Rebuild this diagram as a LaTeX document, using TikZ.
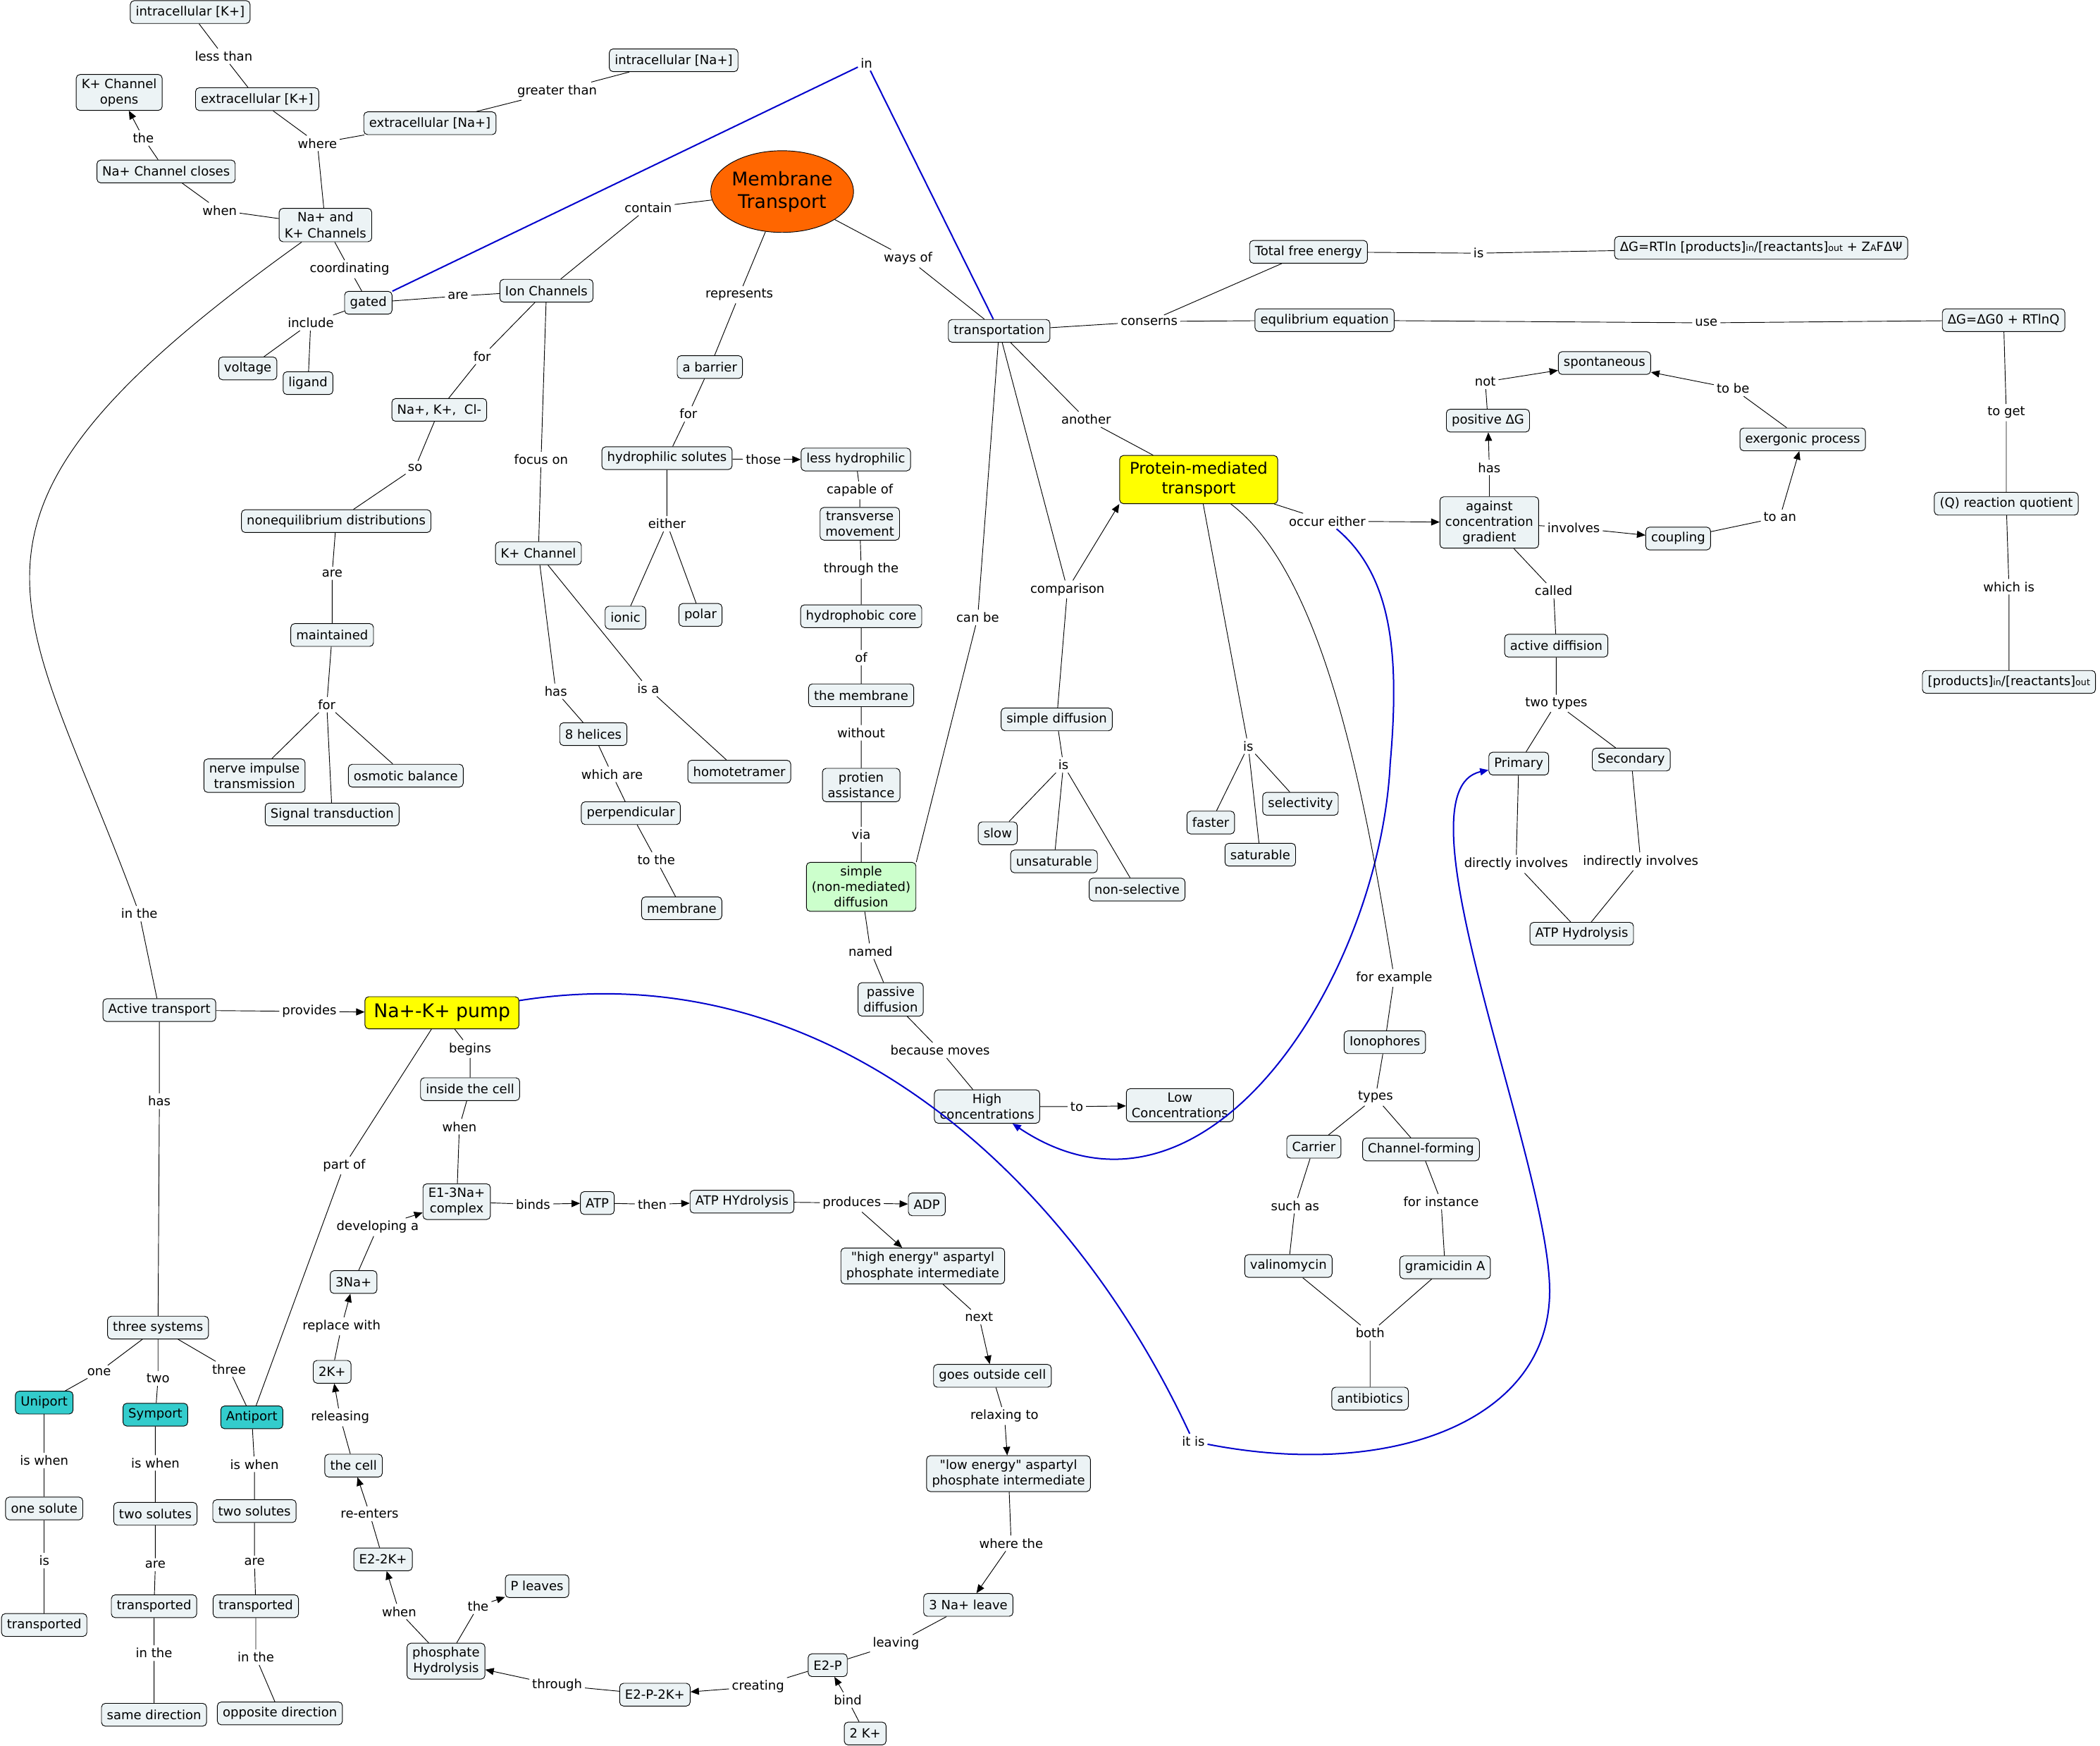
\documentclass[tikz,border=0pt]{standalone}
\usepackage{fontspec}
\setmainfont{DejaVu Sans}
\usepackage{tikz}
\usetikzlibrary{arrows.meta, positioning, shapes.geometric}
\definecolor{cConcept}{RGB}{236,243,245}
\definecolor{cOrange}{RGB}{255,102,0}
\definecolor{cYellow}{RGB}{255,255,0}
\definecolor{cMint}{RGB}{204,255,204}
\definecolor{cTeal}{RGB}{51,204,204}
\definecolor{cBlue}{RGB}{0,0,204}
\newcommand{\sm}[1]{{\fontsize{9.5}{9.5}\selectfont #1}}
\newcommand{\dq}{\XeTeXglyph\XeTeXcharglyph"22\relax}
\tikzset{
	concept/.style   ={rectangle, rounded corners=4pt, draw=black, line width=0.7pt, fill=cConcept, align=center, inner xsep=0.2cm, inner ysep=0.15cm, minimum height=0.85cm},
	phrase/.style    ={inner sep=0.1cm, align=center},
	link/.style      ={line width=0.7pt},
	linkto/.style    ={line width=0.7pt, -{Triangle[length=9pt, width=7.5pt]}},
	bluelink/.style  ={cBlue, line width=1.5pt},
	bluelinkto/.style={cBlue, line width=1.5pt, -{Triangle[length=9pt, width=7.5pt]}},
}

\begin{document}
\begin{tikzpicture}[x=0.05cm, y=-0.05cm, font=\fontsize{13.5}{16.5}\selectfont]
\useasboundingbox (0,0) rectangle (1568,1303);
% ion channels (top left)
\node[concept] (ikin) at (142,9) {intracellular [K+]};
\node[concept] (kopen) at (89,69) {K+ Channel\\opens};
\node[concept] (ekex) at (192,74) {extracellular [K+]};
\node[concept] (nain) at (503,45) {intracellular [Na+]};
\node[concept] (naex) at (321,92) {extracellular [Na+]};
\node[concept] (naclose) at (124,128) {Na+ Channel closes};
\node[concept] (nakch) at (243,168) {Na+ and\\K+ Channels};
\node[concept] (gated) at (275,226) {gated};
\node[concept] (voltage) at (185,275) {voltage};
\node[concept] (ligand) at (230,286) {ligand};
\node[concept] (ionch) at (408,217) {Ion Channels};
\node[concept] (ions) at (328,306) {Na+, K+,~ Cl-};
\node[concept] (noneq) at (251,389) {nonequilibrium distributions};
\node[concept] (maintained) at (248,474) {maintained};
\node[concept] (nerve) at (190,579) {nerve impulse\\transmission};
\node[concept] (osmotic) at (303,579) {osmotic balance};
\node[concept] (signal) at (248,608) {Signal transduction};
\node[concept] (kch) at (402,413) {K+ Channel};
\node[concept] (helices) at (443,548) {8 helices};
\node[concept] (homo) at (552,576) {homotetramer};
\node[concept] (perp) at (471,607) {perpendicular};
\node[concept] (memb) at (509,678) {membrane};
% centre
\node[ellipse, draw=black, line width=0.7pt, fill=cOrange, minimum width=5.05cm, minimum height=3.05cm, inner sep=0pt, align=center, font=\fontsize{20}{24}\selectfont] (mt) at (584,143) {Membrane\\Transport};
\node[concept] (barrier) at (530,274) {a barrier};
\node[concept] (hydro) at (498,342) {hydrophilic solutes};
\node[concept] (ionic) at (467,461) {ionic};
\node[concept] (polar) at (523,459) {polar};
\node[concept] (lesshyd) at (639,343) {less hydrophilic};
\node[concept] (transv) at (642,391) {transverse\\movement};
\node[concept] (hcore) at (643,460) {hydrophobic core};
\node[concept] (themem) at (643,519) {the membrane};
\node[concept] (assist) at (643,586) {protien\\assistance};
\node[concept, fill=cMint] (simple) at (643,662) {simple\\(non-mediated)\\diffusion};
\node[concept] (passive) at (665,746) {passive\\diffusion};
\node[concept] (high) at (737,826) {High\\concentrations};
\node[concept] (low) at (881,825) {Low\\Concentrations};
% transportation (right)
\node[concept] (transp) at (746,247) {transportation};
\node[concept] (totalg) at (977,188) {Total free energy};
\node[concept] (dgfull) at (1315,185) {ΔG=RTln [products]\sm{in}/[reactants]\sm{out} + Z\sm{A}FΔΨ};
\node[concept] (equil) at (989,239) {equlibrium equation};
\node[concept] (dgzero) at (1496,239) {ΔG=ΔG0 + RTlnQ};
\node[concept] (quot) at (1498,376) {(Q) reaction quotient};
\node[concept] (ratio) at (1500,509) {[products]\sm{in}/[reactants]\sm{out}};
\node[concept, fill=cYellow, font=\fontsize{17}{20.5}\selectfont, minimum width=5.9cm, minimum height=1.8cm] (protein) at (895,358) {Protein-mediated\\transport};
\node[concept] (simpdiff) at (789,537) {simple diffusion};
\node[concept] (slow) at (745,622) {slow};
\node[concept] (unsat) at (787,643) {unsaturable};
\node[concept] (nonsel) at (849,664) {non-selective};
\node[concept] (faster) at (904,614) {faster};
\node[concept] (select) at (971,600) {selectivity};
\node[concept] (sat) at (941,638) {saturable};
\node[concept] (spont) at (1198,271) {spontaneous};
\node[concept] (posdg) at (1111,314) {positive ΔG};
\node[concept] (exerg) at (1346,328) {exergonic process};
\node[concept] (against) at (1112,390) {against\\concentration\\gradient};
\node[concept] (coupling) at (1253,402) {coupling};
\node[concept] (activd) at (1162,482) {active diffision};
\node[concept] (primary) at (1134,570) {Primary};
\node[concept] (second) at (1218,567) {Secondary};
\node[concept] (atphyd) at (1181,697) {ATP Hydrolysis};
\node[concept] (ionoph) at (1034,778) {Ionophores};
\node[concept] (carrier) at (981,856) {Carrier};
\node[concept] (chform) at (1061,858) {Channel-forming};
\node[concept] (valino) at (962,945) {valinomycin};
\node[concept] (gramA) at (1079,946) {gramicidin A};
\node[concept] (antib) at (1023,1044) {antibiotics};
% active transport (bottom)
\node[concept] (activet) at (119,754) {Active transport};
\node[concept, fill=cYellow, font=\fontsize{20}{24}\selectfont, minimum width=5.75cm, minimum height=1.2cm] (pump) at (330,756) {Na+-K+ pump};
\node[concept] (inside) at (351,813) {inside the cell};
\node[concept] (eone) at (341,897) {E1-3Na+\\complex};
\node[concept] (atp) at (446,898) {ATP};
\node[concept] (atphy) at (554,897) {ATP HYdrolysis};
\node[concept] (adp) at (692,899) {ADP};
\node[concept] (highen) at (689,945) {\dq high energy\dq{} aspartyl\\phosphate intermediate};
\node[concept] (goesout) at (741,1027) {goes outside cell};
\node[concept] (lowen) at (753,1100) {\dq low energy\dq{} aspartyl\\phosphate intermediate};
\node[concept] (naleave) at (723,1198) {3 Na+ leave};
\node[concept] (etwop) at (618,1243) {E2-P};
\node[concept] (twok) at (646,1294) {2 K+};
\node[concept] (etwopk) at (489,1265) {E2-P-2K+};
\node[concept] (phos) at (333,1240) {phosphate\\Hydrolysis};
\node[concept] (pleave) at (401,1184) {P leaves};
\node[concept] (etwok) at (286,1164) {E2-2K+};
\node[concept] (thecell) at (264,1094) {the cell};
\node[concept] (kplus) at (248,1024) {2K+};
\node[concept] (nathree) at (264,957) {3Na+};
\node[concept] (three) at (118,991) {three systems};
\node[concept, fill=cTeal] (uni) at (33,1047) {Uniport};
\node[concept, fill=cTeal] (sym) at (116,1056) {Symport};
\node[concept, fill=cTeal] (anti) at (188,1058) {Antiport};
\node[concept] (onesol) at (33,1126) {one solute};
\node[concept] (transa) at (33,1213) {transported};
\node[concept] (twosola) at (116,1130) {two solutes};
\node[concept] (transb) at (115,1199) {transported};
\node[concept] (samedir) at (115,1280) {same direction};
\node[concept] (twosolb) at (190,1128) {two solutes};
\node[concept] (transc) at (191,1199) {transported};
\node[concept] (oppdir) at (209,1279) {opposite direction};

% linking phrases
\node[phrase] (lLess) at (167,42) {less than};
\node[phrase] (lWhere) at (237,107) {where};
\node[phrase] (lGreater) at (416,68) {greater than};
\node[phrase] (lThe) at (107,103) {the};
\node[phrase] (lWhen) at (164,157) {when};
\node[phrase] (lCoord) at (261,201) {coordinating};
\node[phrase] (lAre) at (342,221) {are};
\node[phrase] (lInclude) at (232,241) {include};
\node[phrase] (lFor) at (360,266) {for};
\node[phrase] (lSo) at (310,349) {so};
\node[phrase] (lAreb) at (248,428) {are};
\node[phrase] (lForb) at (244,526) {for};
\node[phrase] (lFocus) at (404,343) {focus on};
\node[phrase] (lHas) at (415,516) {has};
\node[phrase] (lIsA) at (484,514) {is a};
\node[phrase] (lWhich) at (457,578) {which are};
\node[phrase] (lToThe) at (490,642) {to the};
\node[phrase] (lIn) at (647,47) {in};
\node[phrase] (lContain) at (484,155) {contain};
\node[phrase] (lRepr) at (552,220) {represents};
\node[phrase] (lWays) at (678,193) {ways of};
\node[phrase] (lForc) at (514,309) {for};
\node[phrase] (lThose) at (570,343) {those};
\node[phrase] (lEither) at (498,391) {either};
\node[phrase] (lCapable) at (642,366) {capable of};
\node[phrase] (lThrough) at (643,425) {through the};
\node[phrase] (lOf) at (643,491) {of};
\node[phrase] (lWithout) at (643,547) {without};
\node[phrase] (lVia) at (643,623) {via};
\node[phrase] (lNamed) at (650,710) {named};
\node[phrase] (lBecause) at (702,784) {because moves};
\node[phrase] (lTo) at (804,826) {to};
\node[phrase] (lCanBe) at (730,461) {can be};
\node[phrase] (lAnother) at (811,313) {another};
\node[phrase] (lComp) at (797,440) {comparison};
\node[phrase] (lIsa) at (794,571) {is};
\node[phrase] (lIsb) at (932,557) {is};
\node[phrase] (lConserns) at (858,240) {conserns};
\node[phrase] (lIsc) at (1104,189) {is};
\node[phrase] (lUse) at (1274,241) {use};
\node[phrase] (lToGet) at (1498,308) {to get};
\node[phrase] (lWhichIs) at (1500,438) {which is};
\node[phrase] (lOccur) at (991,389) {occur either};
\node[phrase] (lNot) at (1109,285) {not};
\node[phrase] (lHasb) at (1112,349) {has};
\node[phrase] (lToBe) at (1294,290) {to be};
\node[phrase] (lInvolves) at (1175,394) {involves};
\node[phrase] (lToAn) at (1329,386) {to an};
\node[phrase] (lCalled) at (1160,441) {called};
\node[phrase] (lTypes) at (1162,525) {two types};
\node[phrase] (lDirect) at (1132,645) {directly involves};
\node[phrase] (lIndirect) at (1225,643) {indirectly involves};
\node[phrase] (lForEx) at (1041,730) {for example};
\node[phrase] (lTypesb) at (1027,819) {types};
\node[phrase] (lSuch) at (967,900) {such as};
\node[phrase] (lForInst) at (1076,897) {for instance};
\node[phrase] (lBoth) at (1023,995) {both};
\node[phrase] (lInThe) at (104,682) {in the};
\node[phrase] (lHasc) at (119,822) {has};
\node[phrase] (lProv) at (231,755) {provides};
\node[phrase] (lPartOf) at (257,870) {part of};
\node[phrase] (lBegins) at (351,783) {begins};
\node[phrase] (lWhenb) at (343,841) {when};
\node[phrase] (lBinds) at (398,899) {binds};
\node[phrase] (lThen) at (487,899) {then};
\node[phrase] (lProd) at (636,898) {produces};
\node[phrase] (lNext) at (731,983) {next};
\node[phrase] (lRelax) at (750,1057) {relaxing to};
\node[phrase] (lWhereThe) at (755,1152) {where the};
\node[phrase] (lLeaving) at (669,1227) {leaving};
\node[phrase] (lBind) at (633,1269) {bind};
\node[phrase] (lCreating) at (566,1259) {creating};
\node[phrase] (lThroughb) at (416,1258) {through};
\node[phrase] (lWhenc) at (298,1203) {when};
\node[phrase] (lTheb) at (357,1199) {the};
\node[phrase] (lReenters) at (276,1130) {re-enters};
\node[phrase] (lReleasing) at (254,1058) {releasing};
\node[phrase] (lReplace) at (255,990) {replace with};
\node[phrase] (lDevelop) at (282,916) {developing a};
\node[phrase] (lOne) at (74,1024) {one};
\node[phrase] (lTwo) at (118,1029) {two};
\node[phrase] (lThree) at (171,1022) {three};
\node[phrase] (lIsWhen) at (33,1090) {is when};
\node[phrase] (lIsd) at (33,1165) {is};
\node[phrase] (lIsWhenb) at (116,1092) {is when};
\node[phrase] (lArec) at (116,1168) {are};
\node[phrase] (lInTheb) at (115,1234) {in the};
\node[phrase] (lIsWhenc) at (190,1093) {is when};
\node[phrase] (lAred) at (190,1166) {are};
\node[phrase] (lInThec) at (191,1237) {in the};
\node[phrase] (lItIs) at (891,1076) {it is};

% links: ion channels
\draw[link] (ekex) -- (lLess) -- (ikin);
\draw[link] (nakch) -- (lWhere) -- (ekex);
\draw[link] (lWhere) -- (naex) -- (lGreater) -- (nain);
\draw[link] (naclose) -- (lThe);
\draw[linkto] (lThe) -- (kopen);
\draw[link] (nakch) -- (lWhen) -- (naclose);
\draw[link] (nakch) -- (lCoord) -- (gated) -- (lAre) -- (ionch);
\draw[link] (gated) -- (lInclude) -- (voltage);
\draw[link] (lInclude) -- (ligand);
\draw[link] (ionch) -- (lFor) -- (ions) -- (lSo) -- (noneq) -- (lAreb) -- (maintained) -- (lForb) -- (nerve);
\draw[link] (lForb) -- (osmotic);
\draw[link] (lForb) -- (signal);
\draw[link] (ionch) -- (lFocus) -- (kch) -- (lHas) -- (helices) -- (lWhich) -- (perp) -- (lToThe) -- (memb);
\draw[link] (kch) -- (lIsA) -- (homo);
\draw[bluelink] (gated) -- (lIn) -- (transp);
% links: membrane transport
\draw[link] (mt) -- (lContain) -- (ionch);
\draw[link] (mt) -- (lRepr) -- (barrier) -- (lForc) -- (hydro);
\draw[link] (hydro) -- (lThose);
\draw[linkto] (lThose) -- (lesshyd);
\draw[link] (hydro) -- (lEither) -- (ionic);
\draw[link] (lEither) -- (polar);
\draw[link] (lesshyd) -- (lCapable) -- (transv) -- (lThrough) -- (hcore) -- (lOf) -- (themem) -- (lWithout) -- (assist) -- (lVia) -- (simple);
\draw[link] (simple) -- (lNamed) -- (passive) -- (lBecause) -- (high) -- (lTo);
\draw[linkto] (lTo) -- (low);
\draw[link] (mt) -- (lWays) -- (transp);
\draw[link] (transp) -- (lCanBe) -- (simple.north east);
\draw[link] (transp) -- (lAnother) -- (protein);
\draw[link] (transp) -- (lComp) -- (simpdiff);
\draw[linkto] (lComp) -- (protein.south west);
\draw[link] (simpdiff) -- (lIsa) -- (slow);
\draw[link] (lIsa) -- (unsat);
\draw[link] (lIsa) -- (nonsel);
\draw[link] (protein) -- (lIsb) -- (faster);
\draw[link] (lIsb) -- (sat);
\draw[link] (lIsb) -- (select);
\draw[link] (transp) -- (lConserns) -- (totalg) -- (lIsc) -- (dgfull);
\draw[link] (lConserns) -- (equil) -- (lUse) -- (dgzero) -- (lToGet) -- (quot) -- (lWhichIs) -- (ratio);
% links: protein-mediated transport
\draw[link] (protein) -- (lOccur);
\draw[linkto] (lOccur) -- (against);
\draw[bluelinkto] (lOccur) .. controls (1040,430) and (1045,490) .. (1038,570) .. controls (1030,730) and (900,935) .. (high);
\draw[link] (against) -- (lHasb);
\draw[linkto] (lHasb) -- (posdg);
\draw[link] (posdg) -- (lNot);
\draw[linkto] (lNot) -- (spont);
\draw[link] (exerg) -- (lToBe);
\draw[linkto] (lToBe) -- (spont);
\draw[link] (against) -- (lInvolves);
\draw[linkto] (lInvolves) -- (coupling);
\draw[link] (coupling) -- (lToAn);
\draw[linkto] (lToAn) -- (exerg);
\draw[link] (against) -- (lCalled) -- (activd) -- (lTypes) -- (primary) -- (lDirect) -- (atphyd);
\draw[link] (lTypes) -- (second) -- (lIndirect) -- (atphyd);
\draw[link] (protein) .. controls (990,430) and (1020,600) .. (lForEx) -- (ionoph) -- (lTypesb) -- (carrier) -- (lSuch) -- (valino) -- (lBoth) -- (antib);
\draw[link] (lTypesb) -- (chform) -- (lForInst) -- (gramA) -- (lBoth);
% links: active transport
\draw[link] (nakch) .. controls (-66,389) and (17,445) .. (lInThe) -- (activet);
\draw[link] (activet) -- (lProv);
\draw[linkto] (lProv) -- (pump);
\draw[link] (activet) -- (lHasc) -- (three);
\draw[link] (three) -- (lOne) -- (uni);
\draw[link] (three) -- (lTwo) -- (sym);
\draw[link] (three) -- (lThree) -- (anti);
\draw[link] (uni) -- (lIsWhen) -- (onesol) -- (lIsd) -- (transa);
\draw[link] (sym) -- (lIsWhenb) -- (twosola) -- (lArec) -- (transb) -- (lInTheb) -- (samedir);
\draw[link] (anti) -- (lIsWhenc) -- (twosolb) -- (lAred) -- (transc) -- (lInThec) -- (oppdir);
\draw[link] (anti) -- (lPartOf) -- (pump);
% links: pump cycle
\draw[link] (pump) -- (lBegins) -- (inside) -- (lWhenb) -- (eone);
\draw[link] (eone) -- (lBinds);
\draw[linkto] (lBinds) -- (atp);
\draw[link] (atp) -- (lThen);
\draw[linkto] (lThen) -- (atphy);
\draw[link] (atphy) -- (lProd);
\draw[linkto] (lProd) -- (adp);
\draw[linkto] (lProd) -- (highen);
\draw[link] (highen) -- (lNext);
\draw[linkto] (lNext) -- (goesout);
\draw[link] (goesout) -- (lRelax);
\draw[linkto] (lRelax) -- (lowen);
\draw[link] (lowen) -- (lWhereThe);
\draw[linkto] (lWhereThe) -- (naleave);
\draw[link] (naleave) -- (lLeaving) -- (etwop);
\draw[link] (twok) -- (lBind);
\draw[linkto] (lBind) -- (etwop);
\draw[link] (etwop) -- (lCreating);
\draw[linkto] (lCreating) -- (etwopk);
\draw[link] (etwopk) -- (lThroughb);
\draw[linkto] (lThroughb) -- (phos);
\draw[link] (phos) -- (lWhenc);
\draw[linkto] (lWhenc) -- (etwok);
\draw[link] (phos) -- (lTheb);
\draw[linkto] (lTheb) -- (pleave);
\draw[link] (etwok) -- (lReenters);
\draw[linkto] (lReenters) -- (thecell);
\draw[link] (thecell) -- (lReleasing);
\draw[linkto] (lReleasing) -- (kplus);
\draw[link] (kplus) -- (lReplace);
\draw[linkto] (lReplace) -- (nathree);
\draw[link] (nathree) -- (lDevelop);
\draw[linkto] (lDevelop) -- (eone);
\draw[bluelink] (pump) .. controls (620,710) and (800,880) .. (lItIs);
\draw[bluelinkto] (lItIs) .. controls (1040,1105) and (1160,1060) .. (1157,960) .. controls (1154,860) and (1040,590) .. (primary);
\end{tikzpicture}
\end{document}
